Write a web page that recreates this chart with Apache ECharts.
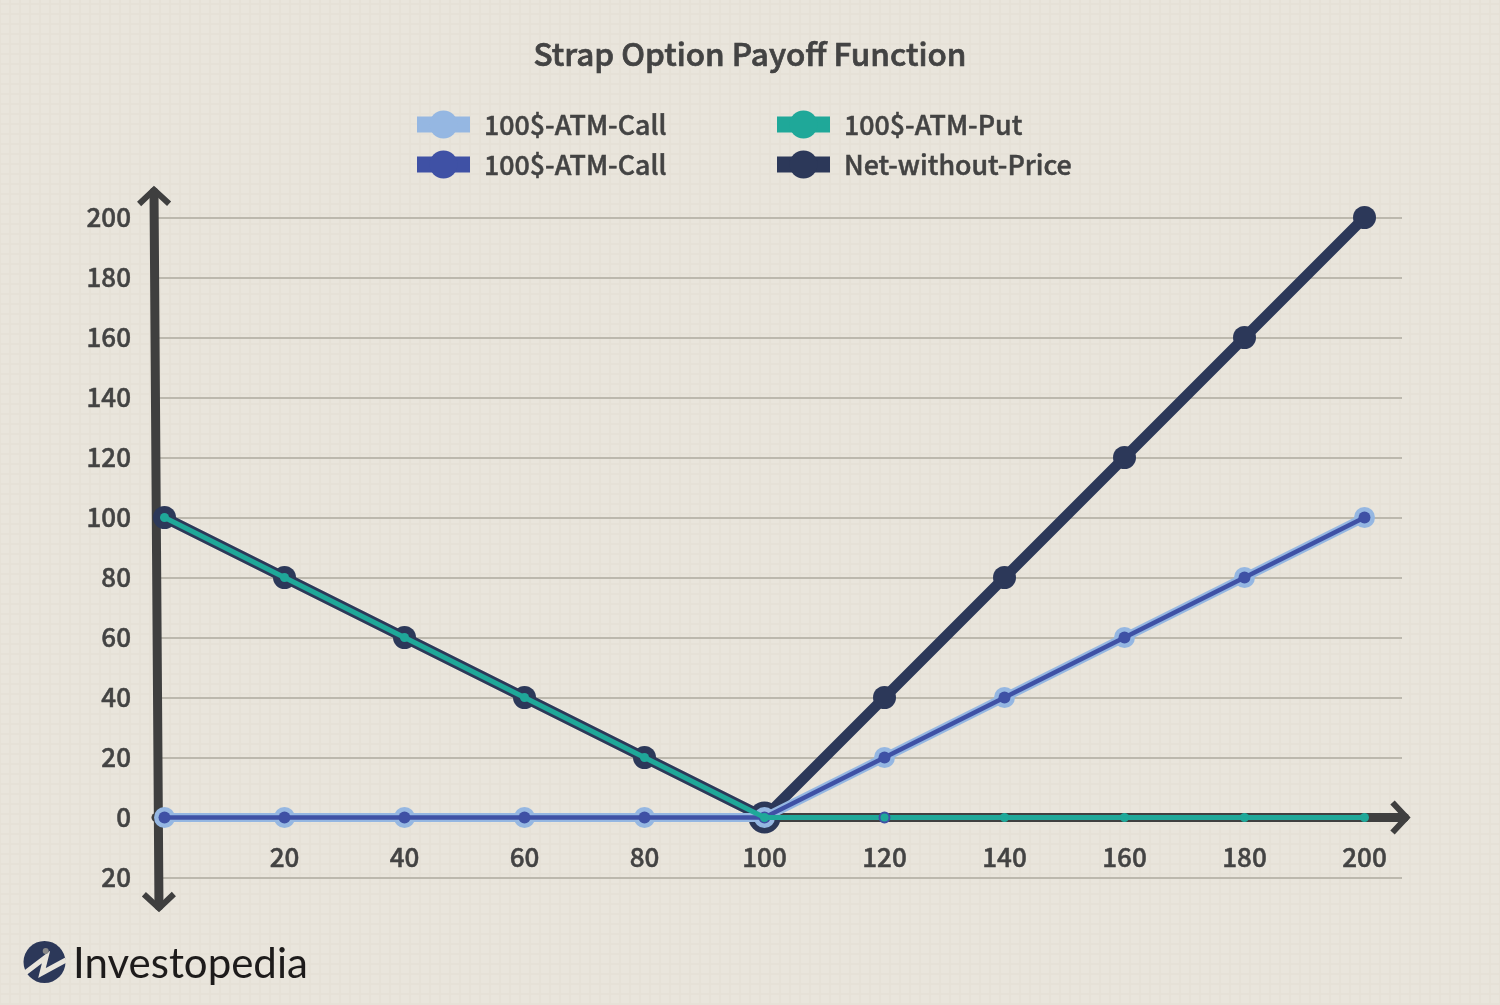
<!DOCTYPE html>
<html>
<head>
<meta charset="utf-8">
<title>Strap Option Payoff Function</title>
<style>
  html, body { margin: 0; padding: 0; }
  body {
    width: 1500px; height: 1005px; background-color: #e9e5dc;
    background-image:
      linear-gradient(to right, #e6e1d7 2px, transparent 2px),
      linear-gradient(to bottom, #e6e1d7 2px, transparent 2px);
    background-size: 10px 10px;
    background-position: 9px 3px;
  }
  #main { width: 1500px; height: 1005px; }
</style>
<script src="https://cdn.jsdelivr.net/npm/echarts@6/dist/echarts.min.js"></script>
</head>
<body>
<div id="main"></div>
<script>
var prices = [0, 20, 40, 60, 80, 100, 120, 140, 160, 180, 200];
var callValues = [0, 0, 0, 0, 0, 0, 20, 40, 60, 80, 100];
var putValues = [100, 80, 60, 40, 20, 0, 0, 0, 0, 0, 0];
var netValues = [100, 80, 60, 40, 20, 0, 40, 80, 120, 160, 200];
var xTicks = [20, 40, 60, 80, 100, 120, 140, 160, 180, 200];

var textColor = '#434343';
var axisColor = '#3f3f3f';
var font = '"Noto Sans CJK SC"';

function pairs(values) {
    return prices.map(function(p, i) { return [p, values[i]]; });
}

// shaft plus open arrow head for the two axes
function renderArrow(params, api) {
    var a = api.coord([api.value(0), api.value(1)]);
    var b = api.coord([api.value(2), api.value(3)]);
    var dx = b[0] - a[0], dy = b[1] - a[1];
    var len = Math.sqrt(dx * dx + dy * dy);
    var ux = dx / len, uy = dy / len;
    var back = 14, side = 15;
    return {
        type: 'group',
        children: [{
            type: 'line',
            shape: { x1: a[0], y1: a[1], x2: b[0] - ux * 2, y2: b[1] - uy * 2 },
            style: { stroke: axisColor, lineWidth: api.value(4), lineCap: 'round' }
        }, {
            type: 'polyline',
            shape: { points: [
                [b[0] - ux * back - uy * side, b[1] - uy * back + ux * side],
                [b[0], b[1]],
                [b[0] - ux * back + uy * side, b[1] - uy * back - ux * side]
            ] },
            style: { stroke: axisColor, lineWidth: 6, fill: null, lineJoin: 'miter' }
        }]
    };
}

var chart = echarts.init(document.getElementById('main'), null, { renderer: 'canvas' });

var legendCommon = {
    orient: 'vertical',
    top: 105.5,
    itemWidth: 53,
    itemHeight: 35,
    itemGap: 12,
    selectedMode: false,
    lineStyle: { width: 16, cap: 'butt' },
    textStyle: { color: textColor, fontSize: 26.8, fontWeight: 500, fontFamily: font, textBorderColor: textColor, textBorderWidth: 0.5, padding: [0, 0, 0, 9] }
};

var option = {
    animation: false,
    backgroundColor: 'transparent',
    textStyle: { fontFamily: font },
    title: {
        text: 'Strap Option Payoff Function',
        left: 'center',
        top: 33,
        textStyle: { color: textColor, fontSize: 31.5, fontWeight: 500, fontFamily: font, textBorderColor: textColor, textBorderWidth: 0.7 }
    },
    legend: [
        Object.assign({}, legendCommon, { left: 404, data: ['100$-ATM-Call', '100$-ATM-Call '] }),
        Object.assign({}, legendCommon, { left: 764, data: ['100$-ATM-Put', 'Net-without-Price'] })
    ],
    grid: { left: 156, right: 98, top: 217.5, bottom: 127.5 },
    xAxis: {
        type: 'value',
        min: -1.4167,
        max: 206.25,
        splitLine: { show: false },
        axisTick: { show: false },
        axisLine: { show: true, onZero: true, lineStyle: { color: axisColor, width: 9 } },
        axisLabel: {
            customValues: xTicks,
            margin: -33.5,
            color: textColor,
            fontSize: 26,
            fontWeight: 500,
            fontFamily: font,
            textBorderColor: textColor,
            textBorderWidth: 0.5
        }
    },
    yAxis: {
        type: 'value',
        min: -20,
        max: 200,
        interval: 20,
        axisLine: { show: false },
        axisTick: { show: false },
        splitLine: { show: true, lineStyle: { color: '#bcb8ad', width: 2 } },
        axisLabel: {
            margin: 25,
            color: textColor,
            fontSize: 26,
            fontWeight: 500,
            fontFamily: font,
            textBorderColor: textColor,
            textBorderWidth: 0.5,
            formatter: function(v) { return String(Math.abs(v)); }
        }
    },
    series: [{
        // axis shafts and arrow heads, below the lines
        type: 'custom',
        silent: true,
        z: 1,
        renderItem: renderArrow,
        encode: { x: [0, 2], y: [1, 3] },
        data: [
            [-1.33, 89, -0.92, -30.2, 9],
            [-1.33, 89, -1.75, 209.2, 9],
            [200, 0, 207, 0, 9]
        ]
    }, {
        name: 'Net-without-Price',
        type: 'line',
        color: '#2c3859',
        z: 2,
        symbol: 'circle',
        symbolSize: function(v, p) { return p.dataIndex === 5 ? 32 : 23; },
        lineStyle: { width: 10.5, color: '#2c3859' },
        data: pairs(netValues)
    }, {
        name: '100$-ATM-Call',
        type: 'line',
        color: '#95b7e2',
        z: 3,
        symbol: 'circle',
        symbolSize: 21,
        lineStyle: { width: 9, color: '#95b7e2' },
        data: pairs(callValues)
    }, {
        name: '100$-ATM-Call ',
        type: 'line',
        color: '#3f51a5',
        z: 4,
        symbol: 'circle',
        symbolSize: 12,
        lineStyle: { width: 4.5, color: '#3f51a5' },
        data: pairs(callValues)
    }, {
        name: '100$-ATM-Put',
        type: 'line',
        color: '#1fa899',
        z: 5,
        symbol: 'circle',
        symbolSize: 9,
        lineStyle: { width: 5, color: '#1fa899' },
        // the point at 120 keeps a thin blue ring in the picture
        data: pairs(putValues).map(function(d, i) {
            return i === 6 ? { value: d, symbolSize: 10, itemStyle: { borderColor: '#3f51a5', borderWidth: 2 } } : d;
        })
    }],
    graphic: [{
        type: 'circle', shape: { cx: 44.5, cy: 962, r: 21 }, style: { fill: '#2c3859' }
    }, {
        type: 'polyline',
        shape: { points: [[25, 973], [46, 957], [42, 973], [66, 960]] },
        style: { stroke: '#e9e5dc', lineWidth: 5, fill: null, lineJoin: 'miter' }
    }, {
        type: 'circle', shape: { cx: 45.7, cy: 951, r: 3 }, style: { fill: '#8a8a8a' }
    }, {
        type: 'text',
        left: 73,
        top: 943,
        style: { text: 'Investopedia', fill: '#1d1b1b', font: '400 42px Lato' }
    }]
};

chart.setOption(option);
</script>
</body>
</html>
